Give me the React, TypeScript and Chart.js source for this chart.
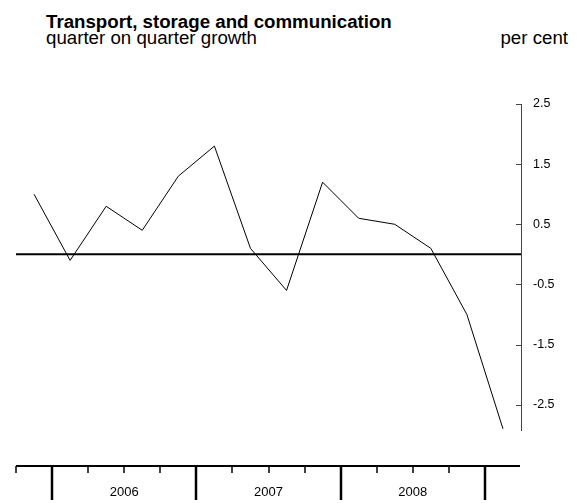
import { useEffect, useRef } from "react";
import { Chart, registerables } from "chart.js";

Chart.register(...registerables);

// ---- data ----
const QUARTERS = [
  "2005 Q4",
  "2006 Q1", "2006 Q2", "2006 Q3", "2006 Q4",
  "2007 Q1", "2007 Q2", "2007 Q3", "2007 Q4",
  "2008 Q1", "2008 Q2", "2008 Q3", "2008 Q4",
  "2009 Q1",
];
const GROWTH = [1.0, -0.1, 0.8, 0.4, 1.3, 1.8, 0.1, -0.6, 1.2, 0.6, 0.5, 0.1, -1.0, -2.9];
const Y_TICKS = [2.5, 1.5, 0.5, -0.5, -1.5, -2.5];
const YEAR_LABELS = ["2006", "2007", "2008"];
const Y_MIN = -2.92;
const Y_MAX = 2.5;
const ZERO_VALUE = 0;

const TITLE = "Transport, storage and communication";
const SUBTITLE = "quarter on quarter growth";
const UNIT = "per cent";

const FONT = '"Liberation Sans", Arial, Helvetica, sans-serif';

const customAxes = {
  id: "customAxes",
  beforeDatasetsDraw(chart: any) {
    const { ctx, chartArea, scales } = chart;
    const y0 = scales.y.getPixelForValue(ZERO_VALUE);
    ctx.save();
    ctx.strokeStyle = "#000";
    ctx.lineWidth = 2;
    ctx.beginPath();
    ctx.moveTo(chartArea.left, y0);
    ctx.lineTo(chartArea.right, y0);
    ctx.stroke();
    ctx.restore();
  },
  afterDraw(chart: any) {
    const { ctx, chartArea, scales } = chart;
    const xs = scales.x;
    const ys = scales.y;
    ctx.save();
    // inward y tick marks
    ctx.strokeStyle = "#444";
    ctx.lineWidth = 1;
    for (const v of Y_TICKS) {
      const py = Math.round(ys.getPixelForValue(v)) + 0.5;
      ctx.beginPath();
      ctx.moveTo(chartArea.right - 5, py);
      ctx.lineTo(chartArea.right, py);
      ctx.stroke();
    }
    // detached x axis
    const ax = chartArea.bottom + 36;
    const half = (xs.getPixelForValue(1) - xs.getPixelForValue(0)) / 2;
    ctx.strokeStyle = "#000";
    ctx.lineWidth = 2;
    ctx.beginPath();
    ctx.moveTo(chartArea.left, ax);
    ctx.lineTo(chartArea.right - 1, ax);
    ctx.stroke();
    QUARTERS.forEach((q, i) => {
      const bx = Math.round(xs.getPixelForValue(i) - half);
      const major = q.endsWith("Q1");
      ctx.lineWidth = major ? 2.5 : 1.5;
      ctx.beginPath();
      ctx.moveTo(bx, ax);
      ctx.lineTo(bx, ax + (major ? 34 : 7));
      ctx.stroke();
    });
    ctx.fillStyle = "#000";
    ctx.font = `13px ${FONT}`;
    ctx.textAlign = "center";
    ctx.textBaseline = "alphabetic";
    for (const yr of YEAR_LABELS) {
      const idx = QUARTERS.map((q, i) => (q.startsWith(yr) ? i : -1)).filter((i) => i >= 0);
      const cx = (xs.getPixelForValue(idx[0]) + xs.getPixelForValue(idx[idx.length - 1])) / 2;
      ctx.fillText(yr, cx, 496);
    }
    ctx.restore();
  },
};

export default function App() {
  const ref = useRef<HTMLCanvasElement | null>(null);
  useEffect(() => {
    if (!ref.current) return;
    const chart = new Chart(ref.current, {
      type: "line",
      data: {
        labels: QUARTERS,
        datasets: [
          {
            data: GROWTH,
            borderColor: "#000",
            borderWidth: 1,
            pointRadius: 0,
            tension: 0,
            fill: false,
          },
        ],
      },
      options: {
        animation: false,
        responsive: false,
        maintainAspectRatio: false,
        layout: { padding: { left: 16, top: 104, bottom: 73, right: 0 } },
        plugins: { legend: { display: false }, tooltip: { enabled: false }, title: { display: false } },
        scales: {
          x: {
            type: "category",
            offset: true,
            display: false,
          },
          y: {
            position: "right",
            min: Y_MIN,
            max: Y_MAX,
            afterBuildTicks: (scale: any) => {
              scale.ticks = Y_TICKS.map((v) => ({ value: v }));
            },
            afterFit: (scale: any) => {
              scale.width = 61;
            },
            grid: { display: false, drawTicks: false, tickLength: 0 },
            border: { display: true, color: "#444", width: 1 },
            ticks: {
              padding: 12,
              color: "#000",
              font: { family: FONT, size: 12.5 },
              callback: (v: any) => String(v),
            },
          },
        },
      },
      plugins: [customAxes],
    });
    return () => chart.destroy();
  }, []);

  const textBase: any = { position: "absolute", fontSize: 18.7, lineHeight: "18px", whiteSpace: "nowrap" };
  return (
    <div style={{ position: "absolute", left: 0, top: 0, width: 582, height: 503, background: "#fff", fontFamily: FONT, color: "#000" }}>
      <div style={{ ...textBase, left: 46, top: 13, fontWeight: "bold" }}>{TITLE}</div>
      <div style={{ ...textBase, left: 46, top: 29 }}>{SUBTITLE}</div>
      <div style={{ ...textBase, right: 14, top: 29 }}>{UNIT}</div>
      <canvas ref={ref} width={582} height={503} style={{ position: "absolute", left: 0, top: 0 }} />
    </div>
  );
}
